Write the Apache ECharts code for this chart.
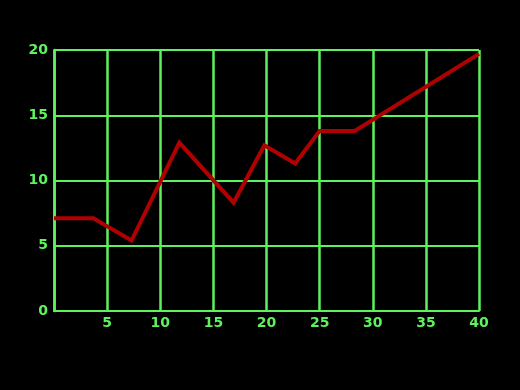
<!DOCTYPE html>
<html>
<head>
<meta charset="utf-8">
<script src="https://cdn.jsdelivr.net/npm/echarts@6/dist/echarts.min.js"></script>
<style>
html,body{margin:0;padding:0;background:#000;}
#c{width:520px;height:390px;}
</style>
</head>
<body>
<div id="c"></div>
<script>
const xValues = [0, 3.7, 7.3, 11.8, 16.9, 19.8, 22.7, 25, 28.3, 40];
const yValues = [7.1, 7.1, 5.4, 12.9, 8.3, 12.7, 11.3, 13.8, 13.8, 19.7];
const xTicks = [5, 10, 15, 20, 25, 30, 35, 40];
const yTicks = [0, 5, 10, 15, 20];

const green = '#5ef25e';
const chart = echarts.init(document.getElementById('c'));
const labelStyle = {
  color: green,
  fontFamily: 'DejaVu Sans',
  fontWeight: 'bold',
  fontSize: 14
};
chart.setOption({
  backgroundColor: '#000',
  animation: false,
  grid: {left: 54, right: 41, top: 50, bottom: 79, containLabel: false},
  xAxis: {
    type: 'value', min: 0, max: 40, interval: 5,
    axisLine: {show: true, lineStyle: {color: green, width: 2}},
    axisTick: {show: false},
    splitLine: {show: true, lineStyle: {color: green, width: 2.5}},
    axisLabel: Object.assign({margin: 5, formatter: v => xTicks.includes(v) ? String(v) : ''}, labelStyle)
  },
  yAxis: {
    type: 'value', min: 0, max: 20, interval: 5,
    axisLine: {show: true, lineStyle: {color: green, width: 2.5}},
    axisTick: {show: false},
    splitLine: {show: true, lineStyle: {color: green, width: 2}},
    axisLabel: Object.assign({margin: 6, formatter: v => yTicks.includes(v) ? String(v) : ''}, labelStyle)
  },
  series: [{
    type: 'line',
    data: xValues.map((x, i) => [x, yValues[i]]),
    showSymbol: false,
    symbol: 'none',
    lineStyle: {color: '#b00000', width: 4, join: 'miter'},
    z: 5
  }]
});
</script>
</body>
</html>
